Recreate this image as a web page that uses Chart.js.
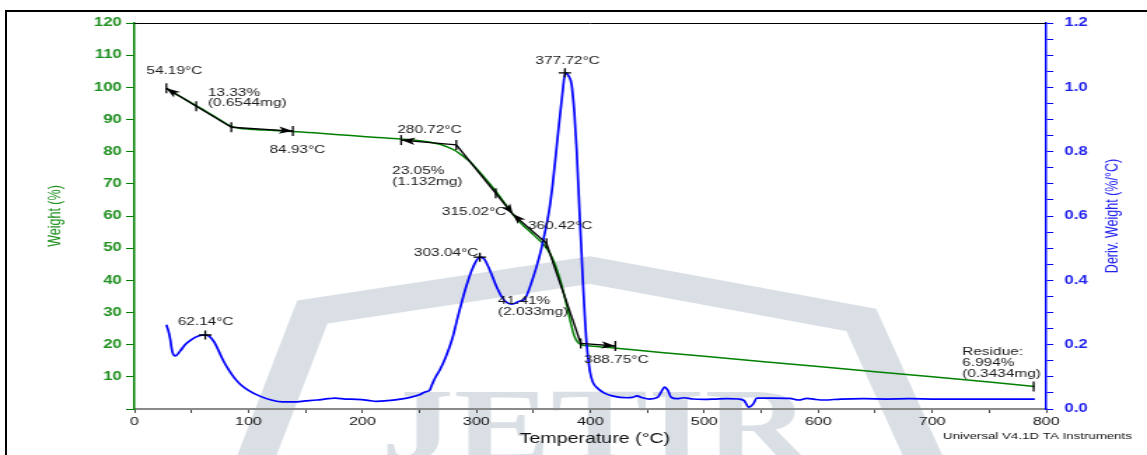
<!DOCTYPE html>
<html>
<head>
<meta charset="utf-8">
<title>TGA / DTG</title>
<script src="https://cdn.jsdelivr.net/npm/chart.js@4.4.1/dist/chart.umd.min.js"></script>
<style>
  html, body { margin: 0; padding: 0; background: #fff; overflow: hidden; }
  /* the instrument printout is stretched horizontally, so the chart is drawn narrow and scaled */
  #wrap { position: absolute; left: 0; top: 0; width: 819px; height: 455px; transform: scaleX(1.4005); transform-origin: 0 0; }
  #frame { position: absolute; left: 5px; top: 10px; width: 1160px; height: 460px; border-left: 2px solid #000; border-top: 2px solid #000; }
</style>
</head>
<body>
<div id="wrap"><canvas id="tga"></canvas></div>
<div id="frame"></div>
<script>
// weight loss curve (left axis, %)
const tgaTemp   = [28, 35, 45, 54, 62, 70, 76, 81, 86, 92, 100, 115, 139, 160, 190, 210, 234, 250, 260, 268, 275, 282, 288, 294, 300, 306, 312, 318, 325, 332, 340, 347, 353, 358, 362, 366, 370, 374, 379, 383, 386, 389, 393, 400, 423, 462, 500, 550, 600, 650, 700, 750, 790];
const tgaWeight = [99.7, 98.2, 96.2, 94.3, 92.7, 91.0, 89.7, 88.6, 87.8, 87.3, 87.0, 86.7, 86.3, 85.8, 85.0, 84.5, 83.9, 83.4, 82.9, 82.3, 81.4, 80.2, 78.7, 77.0, 74.8, 72.4, 69.9, 67.3, 63.9, 60.5, 57.4, 55.2, 53.2, 51.6, 49.8, 47.4, 44.0, 39.6, 32.6, 26.5, 22.6, 20.7, 19.9, 19.6, 18.9, 17.6, 16.4, 14.8, 13.2, 11.6, 10.0, 8.4, 7.0];

// derivative weight (right axis, %/°C)
const dtgTemp  = [28, 30, 31.5, 32.5, 34, 36, 40, 45, 50, 56, 62, 66, 70, 74, 78, 83, 88, 93, 100, 110, 120, 130, 140, 150, 160, 170, 176, 185, 195, 205, 212, 222, 232, 242, 250, 255, 259, 261, 264, 268, 273, 279, 284, 291, 297, 303, 307, 312, 318, 324, 331, 337, 343, 349, 355, 359, 364, 367, 370, 373, 375.5, 378, 381, 383.5, 386, 388, 390.7, 393.6, 396.6, 399.5, 402, 405, 412, 420, 432, 437, 441, 445, 452, 459, 462, 465, 468, 471, 476, 482, 490, 500, 510, 520, 530, 535, 539, 543, 546, 560, 575, 583, 590, 597, 605, 620, 640, 660, 680, 700, 720, 740, 760, 790];
const dtgDeriv = [0.262, 0.240, 0.215, 0.190, 0.170, 0.165, 0.180, 0.202, 0.216, 0.227, 0.230, 0.225, 0.208, 0.180, 0.150, 0.120, 0.095, 0.076, 0.058, 0.040, 0.028, 0.022, 0.022, 0.025, 0.028, 0.032, 0.034, 0.031, 0.030, 0.027, 0.024, 0.026, 0.030, 0.036, 0.044, 0.053, 0.058, 0.075, 0.098, 0.122, 0.160, 0.220, 0.290, 0.380, 0.440, 0.472, 0.466, 0.430, 0.378, 0.340, 0.326, 0.334, 0.345, 0.400, 0.470, 0.530, 0.620, 0.700, 0.800, 0.900, 0.980, 1.045, 1.035, 1.010, 0.920, 0.805, 0.600, 0.390, 0.210, 0.120, 0.085, 0.069, 0.050, 0.040, 0.035, 0.036, 0.041, 0.036, 0.031, 0.036, 0.052, 0.068, 0.058, 0.036, 0.032, 0.035, 0.031, 0.030, 0.031, 0.032, 0.031, 0.026, 0.006, 0.016, 0.034, 0.034, 0.033, 0.028, 0.033, 0.030, 0.028, 0.031, 0.032, 0.031, 0.032, 0.031, 0.031, 0.031, 0.031, 0.031];

// onset / step tangent lines
const stepTemps   = [[28, 85], [85, 139], [234, 282.4], [282.4, 332], [332, 361.5, 391.6], [391.6, 422]];
const stepWeights = [[99.7, 87.6], [87.6, 86.4], [83.6, 82.1], [82.1, 60.6], [60.6, 51.5, 20.4], [20.4, 19.6]];
const stepArrows  = ['start', 'end', 'start', 'end', 'start', 'end'];

// small tick marks on the step lines, plus the residue mark
const markTemps   = [28, 54.2, 85, 139, 234, 282.4, 317, 361.5, 391.6, 422, 789];
const markWeights = [99.7, 94.1, 87.6, 86.4, 83.6, 82.1, 67.1, 51.5, 20.4, 19.6, 7.0];

// DTG peak markers
const peakTemps = [62.14, 303.04, 377.72];
const peakDeriv = [0.230, 0.472, 1.045];

// annotation text, placed in temperature / weight units
const noteText = ['54.19°C', '13.33%', '(0.6544mg)', '84.93°C', '280.72°C', '23.05%', '(1.132mg)', '315.02°C', '360.42°C', '377.72°C', '303.04°C', '41.41%', '(2.033mg)', '62.14°C', '388.75°C', 'Residue:', '6.994%', '(0.3434mg)'];
const noteTemps = [10.5, 64.4, 64.4, 118.5, 230.6, 226.2, 226.2, 269.8, 345.3, 351.8, 245.2, 319, 319, 38, 394.6, 726.3, 726.3, 726.3];
const noteWeights = [105.2, 98.4, 95.2, 80.5, 86.7, 74.1, 70.7, 61.1, 57.0, 108.3, 48.4, 33.7, 30.1, 27.1, 15.2, 17.8, 14.4, 10.9];

const GREEN = '#008000';
const BLUE = '#0000ff';
const FONT = "'Liberation Sans', Arial, sans-serif";

Chart.defaults.font.family = FONT;

function pairs(xs, ys) {
    return xs.map((x, i) => ({ x: x, y: ys[i] }));
}

const datasets = [];

stepTemps.forEach((t, i) => {
    datasets.push({
        data: pairs(t, stepWeights[i]),
        yAxisID: 'y',
        borderColor: '#000',
        borderWidth: 1.4,
        pointRadius: 0,
        arrow: stepArrows[i]
    });
});

datasets.push({
    data: pairs(markTemps, markWeights),
    yAxisID: 'y',
    showLine: false,
    pointStyle: 'line',
    rotation: 90,
    pointRadius: 5,
    borderColor: '#000',
    borderWidth: 1.3
});

datasets.push({
    data: pairs(peakTemps, peakDeriv),
    yAxisID: 'y2',
    showLine: false,
    pointStyle: 'cross',
    pointRadius: 4.5,
    borderColor: '#000',
    borderWidth: 1.3
});

datasets.push({
    label: 'Deriv. Weight',
    data: pairs(dtgTemp, dtgDeriv),
    yAxisID: 'y2',
    borderColor: BLUE,
    borderWidth: 1.7,
    pointRadius: 0,
    cubicInterpolationMode: 'monotone'
});

datasets.push({
    label: 'Weight',
    data: pairs(tgaTemp, tgaWeight),
    yAxisID: 'y',
    borderColor: GREEN,
    borderWidth: 1.5,
    pointRadius: 0,
    cubicInterpolationMode: 'monotone'
});

const decor = {
    id: 'decor',
    beforeDraw(chart) {
        // faint journal logo behind the plot
        const ctx = chart.ctx;
        ctx.save();
        ctx.strokeStyle = '#d9dfe4';
        ctx.fillStyle = '#d9dfe4';
        ctx.lineWidth = 27;
        ctx.lineJoin = 'miter';
        ctx.beginPath();
        ctx.moveTo(178, 475);
        ctx.lineTo(223, 312);
        ctx.lineTo(421, 270);
        ctx.lineTo(615, 320);
        ctx.lineTo(665, 475);
        ctx.stroke();
        ctx.font = "bold 104px 'Liberation Serif', serif";
        ctx.textBaseline = 'alphabetic';
        ctx.fillText('JETIR', 272, 460);
        ctx.restore();
    },
    beforeDatasetsDraw(chart) {
        const { ctx, chartArea } = chart;
        ctx.save();
        ctx.strokeStyle = '#000';
        ctx.lineWidth = 1;
        ctx.beginPath();
        ctx.moveTo(chartArea.left, chartArea.top + 0.5);
        ctx.lineTo(chartArea.right, chartArea.top + 0.5);
        ctx.stroke();
        ctx.restore();
    },
    afterDatasetsDraw(chart) {
        const { ctx, chartArea, scales } = chart;
        ctx.save();

        // arrow heads on the step lines
        ctx.fillStyle = '#000';
        chart.data.datasets.forEach((ds, i) => {
            if (!ds.arrow) return;
            const pts = chart.getDatasetMeta(i).data;
            const tip = ds.arrow === 'start' ? pts[0] : pts[pts.length - 1];
            const from = ds.arrow === 'start' ? pts[1] : pts[pts.length - 2];
            const a = Math.atan2(tip.y - from.y, tip.x - from.x);
            ctx.save();
            ctx.translate(tip.x, tip.y);
            ctx.rotate(a);
            ctx.beginPath();
            ctx.moveTo(0, 0);
            ctx.lineTo(-10, -3.6);
            ctx.lineTo(-7.5, 0);
            ctx.lineTo(-10, 3.6);
            ctx.closePath();
            ctx.fill();
            ctx.restore();
        });

        // annotation labels
        ctx.font = '11px ' + FONT;
        ctx.fillStyle = '#1a1a1a';
        ctx.textAlign = 'left';
        ctx.textBaseline = 'middle';
        noteText.forEach((txt, i) => {
            ctx.fillText(txt, scales.x.getPixelForValue(noteTemps[i]), scales.y.getPixelForValue(noteWeights[i]));
        });

        // axis titles
        const midY = (chartArea.top + chartArea.bottom) / 2;
        ctx.textAlign = 'center';
        ctx.font = '12.5px ' + FONT;
        ctx.fillStyle = '#1f8f1f';
        ctx.save();
        ctx.translate(chartArea.left - 56, midY);
        ctx.rotate(-Math.PI / 2);
        ctx.fillText('Weight (%)', 0, 0);
        ctx.restore();

        ctx.fillStyle = '#2222ee';
        ctx.save();
        ctx.translate(chartArea.right + 48, midY);
        ctx.rotate(-Math.PI / 2);
        ctx.fillText('Deriv. Weight (%/°C)', 0, 0);
        ctx.restore();

        ctx.fillStyle = '#111';
        ctx.font = '14px ' + FONT;
        ctx.fillText('Temperature (°C)', scales.x.getPixelForValue(404), 439);

        ctx.textAlign = 'left';
        ctx.font = '9.5px ' + FONT;
        ctx.fillText('Universal V4.1D TA Instruments', scales.x.getPixelForValue(709.4), 436);
        ctx.restore();
    }
};

new Chart(document.getElementById('tga'), {
    type: 'line',
    data: { datasets: datasets },
    options: {
        responsive: true,
        maintainAspectRatio: false,
        animation: false,
        events: [],
        layout: { padding: { top: 23, left: 0, right: 0, bottom: 0 } },
        plugins: { legend: { display: false }, tooltip: { enabled: false } },
        scales: {
            x: {
                type: 'linear',
                min: 0,
                max: 800,
                afterFit: s => { s.height = 46; },
                border: { color: '#8a8a8a', width: 2 },
                grid: { drawOnChartArea: false, tickLength: 4, color: '#444' },
                ticks: {
                    stepSize: 50,
                    autoSkip: false,
                    maxRotation: 0,
                    padding: 2,
                    color: '#111',
                    font: { size: 11.5 },
                    callback: v => (v % 100 === 0 ? v : '')
                }
            },
            y: {
                position: 'left',
                min: 0,
                max: 120,
                afterFit: s => { s.width = 96; },
                border: { color: GREEN, width: 1.5 },
                grid: { drawOnChartArea: false, tickLength: 6, color: GREEN },
                ticks: {
                    stepSize: 10,
                    padding: 3,
                    color: '#1f8f1f',
                    font: { size: 12, weight: 'bold' },
                    callback: v => (v === 0 ? '' : v)
                }
            },
            y2: {
                position: 'right',
                min: 0,
                max: 1.2,
                afterFit: s => { s.width = 72; },
                border: { color: BLUE, width: 1.5 },
                grid: { drawOnChartArea: false, tickLength: 5, color: BLUE },
                ticks: {
                    stepSize: 0.05,
                    autoSkip: false,
                    padding: 8,
                    color: '#2222ee',
                    font: { size: 12, weight: 'bold' },
                    callback: v => (Math.round(v * 100) % 20 === 0 ? v.toFixed(1) : '')
                }
            }
        }
    },
    plugins: [decor]
});
</script>
</body>
</html>
